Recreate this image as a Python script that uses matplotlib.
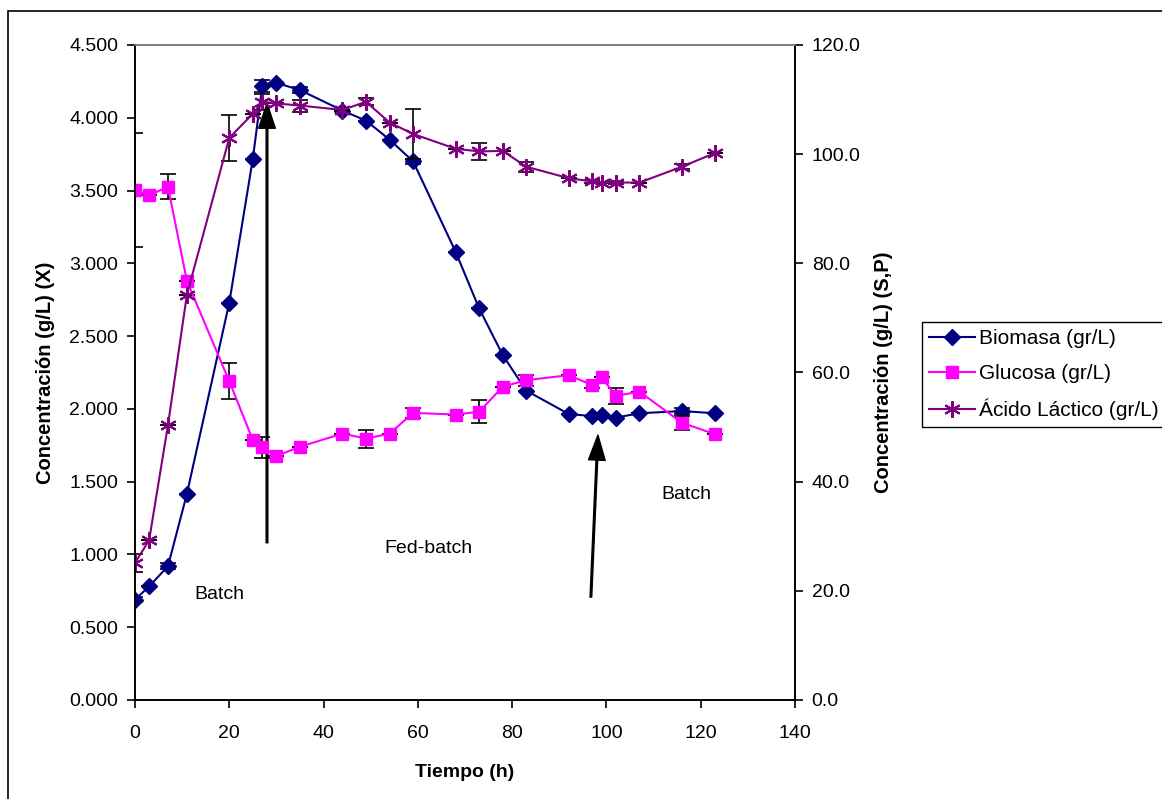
import numpy as np
import matplotlib.pyplot as plt
from matplotlib.patches import Rectangle

plt.rcParams['font.family'] = ['Liberation Sans', 'DejaVu Sans']

# Tiempo (h)
t_bio = [0, 3, 7, 11, 20, 25, 27, 30, 35, 44, 49, 54, 59, 68, 73, 78, 83, 92, 97, 99, 102, 107, 116, 123]
biomasa = [0.69, 0.78, 0.92, 1.415, 2.73, 3.72, 4.22, 4.24, 4.19, 4.05, 3.98, 3.85, 3.70, 3.08, 2.69, 2.37,
           2.125, 1.965, 1.95, 1.96, 1.94, 1.97, 1.985, 1.97]
biomasa_err = [0.02, 0, 0.02, 0, 0, 0, 0.04, 0, 0.02, 0, 0, 0, 0.02, 0, 0, 0,
               0, 0, 0, 0, 0, 0, 0.02, 0]

glucosa = [93.4, 92.5, 94.0, 76.8, 58.4, 47.6, 46.3, 44.7, 46.4, 48.8, 47.9, 48.8, 52.6, 52.3, 52.8, 57.4,
           58.6, 59.5, 57.7, 59.1, 55.7, 56.5, 50.8, 48.7]
glucosa_err = [10.4, 0, 2.3, 0, 3.3, 0, 1.9, 0, 0, 0, 1.65, 0, 0.9, 0, 2.1, 0,
               1.0, 0, 0.6, 0, 1.4, 0, 1.3, 0]

lactico = [25.1, 29.3, 50.4, 74.2, 103.0, 107.4, 109.6, 109.3, 108.9, 108.1, 109.6, 105.8, 103.7, 101.0, 100.5, 100.6,
           97.7, 95.6, 95.0, 94.8, 94.8, 94.8, 97.7, 100.2]
lactico_err = [1.6, 0, 0, 0, 4.2, 0, 1.5, 0, 1.1, 0, 0.6, 0, 4.5, 0, 1.5, 0,
               0.9, 0, 0.3, 0, 0.3, 0, 0.5, 0]

fig = plt.figure(figsize=(11.62, 7.99), dpi=100)
ax = fig.add_axes([135 / 1162, 1 - 700 / 799, 660 / 1162, 655 / 799])
ax2 = ax.twinx()

# outer frame of the chart area
fig.patches.append(Rectangle((8 / 1162, -0.05), 1.2, 1 - 11 / 799 + 0.05, transform=fig.transFigure,
                             fill=False, edgecolor='black', linewidth=1.2))

ax.errorbar(t_bio, biomasa, yerr=biomasa_err, fmt='none', ecolor='black', elinewidth=1.2, capsize=6, capthick=1.2)
l1, = ax.plot(t_bio, biomasa, color='#000080', marker='D', markersize=8, linewidth=1.5, label='Biomasa (gr/L)')

ax2.errorbar(t_bio, glucosa, yerr=glucosa_err, fmt='none', ecolor='black', elinewidth=1.2, capsize=6, capthick=1.2)
ax2.errorbar(t_bio, lactico, yerr=lactico_err, fmt='none', ecolor='black', elinewidth=1.2, capsize=6, capthick=1.2)
l2, = ax2.plot(t_bio, glucosa, color='#FF00FF', marker='s', markersize=8, linewidth=1.5, label='Glucosa (gr/L)')
l3, = ax2.plot(t_bio, lactico, color='#800080', marker=(6, 2, 0), markersize=12, markeredgewidth=1.5,
               linewidth=1.5, label='Ácido Láctico (gr/L)')

ax.set_xlim(0, 140)
ax.set_ylim(0, 4.5)
ax2.set_ylim(0, 120)
ax.set_xticks(np.arange(0, 141, 20))
ax.set_yticks(np.arange(0, 4.51, 0.5))
ax2.set_yticks(np.arange(0, 121, 20))
ax.yaxis.set_major_formatter(plt.FuncFormatter(lambda v, p: f'{v:.3f}'))
ax2.yaxis.set_major_formatter(plt.FuncFormatter(lambda v, p: f'{v:.1f}'))

for a in (ax, ax2):
    a.tick_params(direction='out', length=6, width=1.2, labelsize=14, pad=6)
    for s in a.spines.values():
        s.set_linewidth(1.2)
    a.spines['top'].set_color('#808080')
ax.tick_params(axis='x', pad=12)

ax.set_xlabel('Tiempo (h)', fontsize=14, fontweight='bold', labelpad=16)
ax.set_ylabel('Concentración (g/L) (X)', fontsize=14.5, fontweight='bold', labelpad=10)
ax2.set_ylabel('Concentración (g/L) (S,P)', fontsize=14.5, fontweight='bold', labelpad=10)

# arrows and phase labels
arrow = dict(facecolor='black', edgecolor='black', width=1.2, headwidth=12, headlength=18, shrink=0)
ax.annotate('', xy=(28, 4.10), xytext=(28, 1.08), arrowprops=arrow)
ax.annotate('', xy=(98.2, 1.82), xytext=(96.7, 0.707), arrowprops=arrow)
ax.text(17.8, 0.728, 'Batch', fontsize=14, ha='center', va='center')
ax.text(62.2, 1.044, 'Fed-batch', fontsize=14, ha='center', va='center')
ax.text(116.9, 1.415, 'Batch', fontsize=14, ha='center', va='center')

leg = fig.legend(handles=[l1, l2, l3], loc='upper left', bbox_to_anchor=(922 / 1162, 1 - 322 / 799),
                 fontsize=15, frameon=True, fancybox=False, edgecolor='black', framealpha=1,
                 borderpad=0.35, handlelength=2.2, labelspacing=0.75, handletextpad=0.2, borderaxespad=0)
leg.get_frame().set_linewidth(1.0)

fig.savefig('out.png', dpi=100)
